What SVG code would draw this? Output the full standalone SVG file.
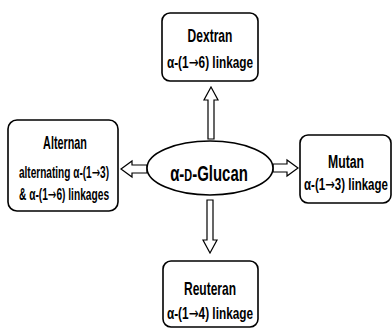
<svg xmlns="http://www.w3.org/2000/svg" width="392" height="329" viewBox="0 0 392 329">
<style>
.box{fill:#fff;stroke:#000;stroke-width:1.6}
.arr{fill:#fff;stroke:#000;stroke-width:1.2;stroke-linejoin:miter}
text{font-family:"Liberation Sans",Arial,sans-serif;font-weight:bold;fill:#000;text-anchor:middle}
.t{font-size:18px}
.s{font-size:16px}
.c{font-size:22px}
.ar{font-family:"DejaVu Sans",sans-serif;font-weight:normal}
</style>
<rect width="392" height="329" fill="#fff"/>
<g id="connectors">
<path class="arr" d="M211,87 L218,100 L214,100 L214,139 L208,139 L208,100 L204,100 Z"/>
<path class="arr" d="M210,253 L217,240 L213,240 L213,200 L207,200 L207,240 L203,240 Z"/>
<path class="arr" d="M121,169 L132,161 L132,165 L147,165 L147,173 L132,173 L132,177 Z"/>
<path class="arr" d="M298,168 L287,160 L287,164 L273,164 L273,172 L287,172 L287,176 Z"/>
</g>
<g id="glucan">
<ellipse cx="210" cy="168" rx="63" ry="27" fill="#fff" stroke="#000" stroke-width="1.6"/>
<text class="c" transform="translate(209,181) scale(0.68,1)">α-<tspan font-size="16">D</tspan>-Glucan</text>
</g>
<g id="dextran">
<rect class="box" x="162" y="13" width="96" height="68" rx="8"/>
<text class="t" transform="translate(210,42) scale(0.67,1)">Dextran</text>
<text class="s" transform="translate(210,68) scale(0.74,1)">α-(1<tspan class="ar">→</tspan>6) linkage</text>
</g>
<g id="alternan">
<rect class="box" x="8" y="120" width="110" height="91" rx="9"/>
<text class="t" font-size="19" transform="translate(65,149) scale(0.6,1)">Alternan</text>
<text class="s" transform="translate(64,178) scale(0.63,1)">alternating α-(1<tspan class="ar">→</tspan>3)</text>
<text class="s" transform="translate(64,200) scale(0.637,1)">&amp; α-(1<tspan class="ar">→</tspan>6) linkages</text>
</g>
<g id="mutan">
<rect class="box" x="300" y="135" width="91" height="68" rx="8"/>
<text class="t" transform="translate(346,168) scale(0.68,1)">Mutan</text>
<text class="s" transform="translate(346,190) scale(0.72,1)">α-(1<tspan class="ar">→</tspan>3) linkage</text>
</g>
<g id="reuteran">
<rect class="box" x="163" y="261" width="95" height="66" rx="8"/>
<text class="t" transform="translate(210,295) scale(0.667,1)">Reuteran</text>
<text class="s" transform="translate(210,319) scale(0.74,1)">α-(1<tspan class="ar">→</tspan>4) linkage</text>
</g>
</svg>
